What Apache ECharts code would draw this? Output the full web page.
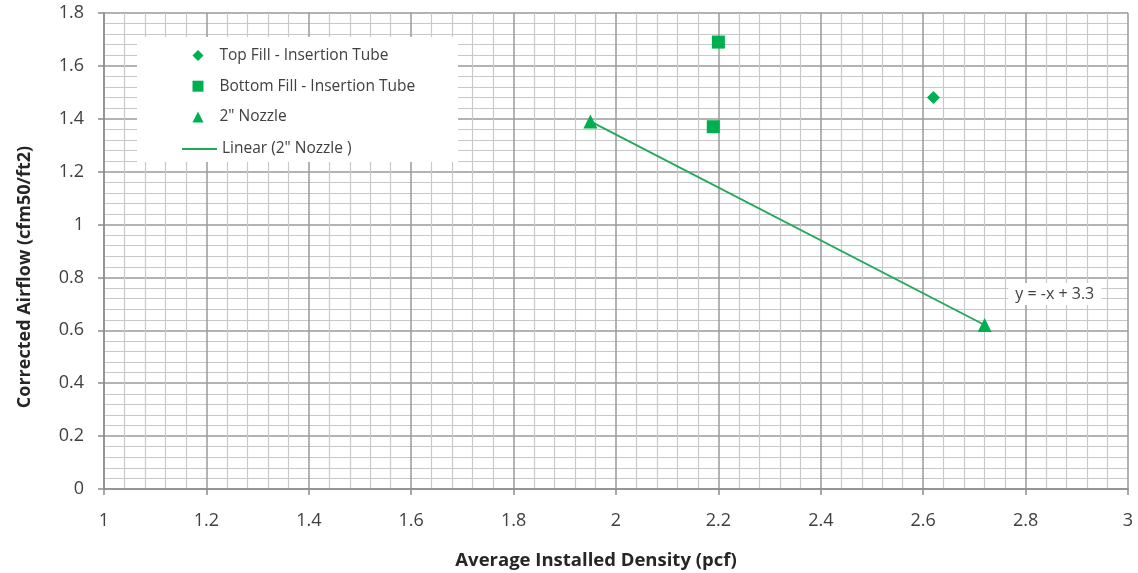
<!DOCTYPE html>
<html>
<head>
<meta charset="utf-8">
<script src="https://cdn.jsdelivr.net/npm/echarts@6/dist/echarts.min.js"></script>
<style>html,body{margin:0;padding:0;background:#fff;}#c{width:1138px;height:573px;}</style>
</head>
<body>
<div id="c"></div>
<script>
const topFill = [[2.62, 1.48]];
const bottomFill = [[2.20, 1.69], [2.19, 1.37]];
const nozzle = [[1.95, 1.39], [2.72, 0.62]];
const trendLine = [[1.95, 1.39], [2.72, 0.62]];
const seriesNames = ['Top Fill - Insertion Tube', 'Bottom Fill - Insertion Tube', '2" Nozzle', 'Linear (2" Nozzle )'];
const equationText = 'y = -x + 3.3';
const xTitle = 'Average Installed Density (pcf)';
const yTitle = 'Corrected Airflow (cfm50/ft2)';

const FONT = '"Open Sans", "Noto Sans", sans-serif';
const GREEN = '#00B050';
const LINEGREEN = '#22a85a';
const chart = echarts.init(document.getElementById('c'), null, {renderer: 'canvas'});
const axisCommon = {
  axisLine: {show: true, onZero: false, lineStyle: {color: '#8c8c8c', width: 1.5}},
  axisTick: {show: true, inside: false, length: 6, lineStyle: {color: '#8c8c8c', width: 1.5}},
  splitLine: {show: true, lineStyle: {color: '#9a9a9a', width: 1.5}},
  minorTick: {show: false, splitNumber: 5},
  minorSplitLine: {show: true, lineStyle: {color: '#c8c8c8', width: 1.2}},
  axisLabel: {color: '#404040', fontFamily: FONT, fontSize: 18}
};
const legendText = {color: '#404040', fontFamily: FONT, fontSize: 15.5, lineHeight: 20};
chart.setOption({
  animation: false,
  backgroundColor: '#fff',
  grid: {left: 104, right: 10, top: 13, bottom: 84, containLabel: false, outerBoundsMode: 'none'},
  xAxis: Object.assign({}, axisCommon, {
    type: 'value', min: 1, max: 3, interval: 0.2,
    name: xTitle, nameLocation: 'middle', nameGap: 62,
    nameTextStyle: {color: '#262626', fontFamily: FONT, fontSize: 18.5, fontWeight: 'bold', padding: [0, 40, 0, 0]},
    axisLabel: Object.assign({}, axisCommon.axisLabel, {margin: 23})
  }),
  yAxis: Object.assign({}, axisCommon, {
    type: 'value', min: 0, max: 1.8, interval: 0.2,
    name: yTitle, nameLocation: 'middle', nameGap: 70,
    nameTextStyle: {color: '#262626', fontFamily: FONT, fontSize: 18, fontWeight: 'bold', padding: [0, 52, 0, 0]},
    axisLabel: Object.assign({}, axisCommon.axisLabel, {margin: 20})
  }),
  legend: [{
    orient: 'vertical', left: 187.5, top: 40.5, itemGap: 10.7,
    itemWidth: 11, itemHeight: 11,
    textStyle: Object.assign({}, legendText, {padding: [0, 0, 0, 11]}),
    data: [
      {name: seriesNames[0], icon: 'diamond'},
      {name: seriesNames[1], icon: 'rect'},
      {name: seriesNames[2], icon: 'triangle'}
    ]
  }, {
    orient: 'vertical', left: 177, top: 134,
    itemWidth: 35, itemHeight: 2,
    textStyle: Object.assign({}, legendText, {padding: [0, 0, 0, 0]}),
    data: [{name: seriesNames[3], icon: 'rect'}]
  }],
  series: [
    {name: seriesNames[0], type: 'scatter', data: topFill, symbol: 'diamond', symbolSize: 13, itemStyle: {color: GREEN, opacity: 1}},
    {name: seriesNames[1], type: 'scatter', data: bottomFill, symbol: 'rect', symbolSize: 13, itemStyle: {color: GREEN, opacity: 1}},
    {name: seriesNames[2], type: 'scatter', data: nozzle, symbol: 'triangle', symbolSize: 14, itemStyle: {color: GREEN, opacity: 1}, z: 3},
    {name: seriesNames[3], type: 'line', data: trendLine, symbol: 'none', lineStyle: {color: LINEGREEN, width: 1.8}, itemStyle: {color: LINEGREEN}}
  ]
});
const p = chart.convertToPixel({gridIndex: 0}, [2.857, 0.737]);
chart.setOption({graphic: {elements: [
  {type: 'rect', z: 3, shape: {x: 137, y: 37, width: 321, height: 125}, style: {fill: '#fff'}},
  {type: 'text', z: 5, x: p[0], y: p[1], style: {text: equationText, fill: '#404040', font: '16px ' + FONT, align: 'center', verticalAlign: 'middle', backgroundColor: '#fff', padding: [3, 7]}}
]}});
</script>
</body>
</html>
